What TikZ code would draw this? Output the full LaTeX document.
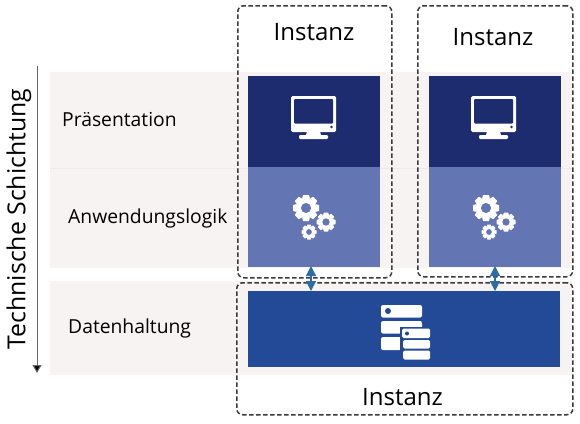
\documentclass[tikz,border=0pt]{standalone}
\usepackage{fontspec}
\setmainfont{Open Sans}
\usetikzlibrary{arrows.meta}
\definecolor{bandc}{HTML}{F7F3F2}
\definecolor{navy}{HTML}{1D2C6E}
\definecolor{midb}{HTML}{6475B4}
\definecolor{datab}{HTML}{234A96}
\definecolor{dashc}{HTML}{3A3A3A}
\definecolor{arrc}{HTML}{2E6DA4}
\tikzset{
 band/.style={draw=none,fill=bandc,minimum width=522pt,anchor=north west,inner sep=0pt},
 block/.style={draw=none,anchor=north west,inner sep=0pt},
 inst/.style={draw=dashc,line width=1.5pt,rounded corners=6pt,anchor=north west,inner sep=0pt,dash pattern=on 4.5pt off 2.5pt},
 lbl/.style={font=\fontsize{19.3}{21}\selectfont,text=black,anchor=west,inner sep=0pt},
 title/.style={font=\fontsize{24}{26}\selectfont,text=black,inner sep=0pt},
 link/.style={draw=arrc,line width=1.2pt,{Triangle[length=10pt,width=10pt]}-{Triangle[length=10pt,width=10pt]}},
}
\newcommand{\gearicon}[3]{% x y r
 \begin{scope}[shift={(#1,#2)},even odd rule]
  \fill[white] 
   \foreach \a in {0,45,...,315}{ [rotate=\a] (-#3*0.3,#3*0.75) -- (-#3*0.22,#3) -- (#3*0.22,#3) -- (#3*0.3,#3*0.75) -- cycle }
   ;
  \fill[white] (0,0) circle[radius=#3*0.8] (0,0) circle[radius=#3*0.4];
 \end{scope}}
\newcommand{\monitor}[2]{%
 \begin{scope}[shift={(#1,#2)}]
  \fill[white,rounded corners=1.5pt] (-22.5,-24) rectangle (22.5,12);
  \fill[navy,rounded corners=1pt] (-19.5,-21) rectangle (19.5,3.5);
  \fill[navy] (18,7) circle[radius=1.3pt];
  \fill[white] (-6.5,11) -- (6.5,11) -- (7.5,15.5) -- (-7.5,15.5) -- cycle;
  \fill[white,rounded corners=1.2pt] (-14.5,15) rectangle (14.5,19);
 \end{scope}}
\begin{document}
\begin{tikzpicture}[x=1pt,y=-1pt]
\useasboundingbox (0,0) rectangle (580,423);
\fill[white] (0,0) rectangle (580,423);
\node[band,minimum height=96pt] (b1) at (50,72) {};
\node[band,minimum height=100pt] (b2) at (50,168) {};
\node[band,minimum height=94pt] (b3) at (50,281) {};
\draw[black!8,line width=0.5pt] (50,168) -- (572,168);

\node[lbl] (l1) at (62,120) {Präsentation};
\node[lbl] (l2) at (68,218) {Anwendungslogik};
\node[lbl] (l3) at (68,328) {Datenhaltung};

\node[block,fill=navy,minimum width=132pt,minimum height=91pt] (p1) at (248,76) {};
\node[block,fill=midb,minimum width=132pt,minimum height=100pt] (a1) at (248,167) {};
\node[block,fill=navy,minimum width=132pt,minimum height=91pt] (p2) at (429,76) {};
\node[block,fill=midb,minimum width=132pt,minimum height=100pt] (a2) at (429,167) {};
\node[block,fill=datab,minimum width=312pt,minimum height=76pt] (d) at (248,291) {};

\monitor{313.5}{120}
\monitor{493.5}{120}
\gearicon{306}{208}{13}
\gearicon{326}{222}{9.5}
\gearicon{309}{232}{7.5}
\gearicon{486}{208}{13}
\gearicon{506}{222}{9.5}
\gearicon{489}{232}{7.5}

% database icon
\begin{scope}[shift={(381,305)}]
 \fill[white,rounded corners=2pt] (0,0) rectangle (41,12.5);
 \fill[datab] (7,6) circle[radius=3pt];
 \fill[white,rounded corners=2pt] (0,16) rectangle (41,28.5);
 \fill[white,rounded corners=2pt] (0,32) rectangle (41,45);
 \fill[datab] (19,22) rectangle (50,56);
 \fill[white,rounded corners=1.5pt] (21,23.5) rectangle (49,33);
 \fill[datab] (26,28.5) circle[radius=2pt];
 \fill[white,rounded corners=1.5pt] (22,35) rectangle (49,43.5);
 \fill[white,rounded corners=1.5pt] (22,45.5) rectangle (49,54.5);
\end{scope}

\node[inst,minimum width=154pt,minimum height=272pt] (i1) at (237,5) {};
\node[inst,minimum width=155pt,minimum height=271pt] (i2) at (417,5) {};
\node[inst,minimum width=336pt,minimum height=132pt] (i3) at (236,282) {};
\node[title] (t1) at (314,32) {Instanz};
\node[title] (t2) at (493,37) {Instanz};
\node[title] (t3) at (402.5,397) {Instanz};

\coordinate (u1) at (311,266);
\coordinate (v1) at (311,291);
\coordinate (u2) at (495,266);
\coordinate (v2) at (495,291);
\draw[link] (u1) -- (v1);
\draw[link] (u2) -- (v2);

\coordinate (ax) at (37,66);
\coordinate (ay) at (37,373);
\draw[draw=gray!80!black,line width=1pt,-{Triangle[length=8pt,width=9pt,fill=black]}] (ax) -- (ay);
\node[font=\fontsize{24.8}{26}\selectfont,rotate=90,inner sep=0pt] (ts) at (19,219) {Technische Schichtung};
\end{tikzpicture}
\end{document}
